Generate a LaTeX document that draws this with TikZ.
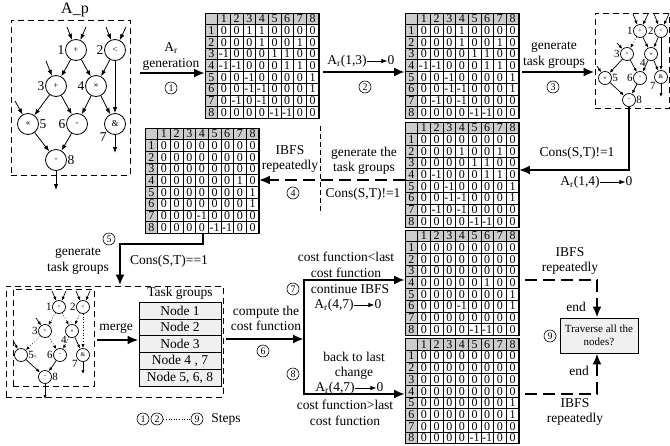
\documentclass[tikz,border=0pt]{standalone}
\usepackage{fontspec}
\setmainfont{Liberation Serif}
\usetikzlibrary{arrows.meta}
\newcommand\fsA{\fontsize{13.5}{15.5}\selectfont}
\tikzset{
  txt/.style={font=\fsA, align=center, inner sep=0pt},
  tl/.style={font=\fsA, inner sep=0pt, text height=9.5pt, text depth=3pt},
  bigarr/.style={line width=2.4pt, -{Latex[length=11pt,width=9pt]}},
  bigdash/.style={line width=2.4pt, dash pattern=on 12pt off 6pt, -{Latex[length=11pt,width=9pt]}},
  smarr/.style={line width=0.8pt, -{Latex[length=6pt,width=4.5pt]}},
  cnum/.style={circle, draw, line width=0.6pt, inner sep=0pt, minimum size=12pt, font=\fontsize{10}{10}\selectfont},
  dbox/.style={draw, line width=1pt, dash pattern=on 6pt off 4pt, inner sep=0pt},
  mcell/.style={draw, line width=0.7pt, minimum width=12.65pt, minimum height=11.7pt, inner sep=0pt, outer sep=0pt, text height=7.8pt, text depth=0pt, font=\fontsize{12}{12}\selectfont},
  mhead/.style={mcell, fill=gray!40},
  mframe/.style={draw, line width=0.9pt, inner sep=0pt, outer sep=0pt, minimum width=113.85pt, minimum height=105.3pt, anchor=north west},
  opA/.style={circle, draw, line width=0.8pt, minimum size=21pt, inner sep=0pt, font=\fontsize{9}{9}\selectfont},
  opB/.style={circle, draw, line width=0.7pt, minimum size=13pt, inner sep=0pt, font=\fontsize{6}{6}\selectfont},
  labA/.style={font=\fsA, inner sep=0.5pt},
  labB/.style={font=\fontsize{11}{11}\selectfont, inner sep=0.3pt},
  eA/.style={line width=0.8pt, -{Latex[length=6pt,width=4.5pt]}},
  eB/.style={line width=0.7pt, -{Latex[length=4pt,width=3.2pt]}},
  dB/.style={eB, dotted},
  tg/.style={draw, fill=gray!12, line width=0.8pt, minimum width=82pt, minimum height=16.8pt, font=\fsA, inner sep=0pt},
}
% #1 name, #2 x, #3 y (top-left), #4 rows
\newcommand\drawmat[4]{%
  \node[mhead] (#1-0-0) at ({#2+0.5*12.65},{#3+0.5*11.7}) {};
  \foreach \k in {1,...,8} {
    \node[mhead] (#1-0-\k) at ({#2+(\k+0.5)*12.65},{#3+0.5*11.7}) {\k};
  }
  \foreach \row [count=\r] in {#4} {
    \node[mhead] (#1-\r-0) at ({#2+0.5*12.65},{#3+(\r+0.5)*11.7}) {\r};
    \foreach \v [count=\c] in \row {
      \node[mcell] (#1-\r-\c) at ({#2+(\c+0.5)*12.65},{#3+(\r+0.5)*11.7}) {\v};
    }
  }
  \node[mframe] (#1) at (#2,#3) {};
}
\begin{document}
\begin{tikzpicture}[x=1pt,y=-1pt]
\useasboundingbox (0,0) rectangle (670,445);

% ================= top-left graph
\node[txt, font=\fontsize{16}{16}\selectfont] (ap) at (75,10) {A\_p};
\node[dbox, minimum width=119pt, minimum height=155pt] (tlbox) at (70.5,97.5) {};
\node[opA, label={[labA]left:1}] (a1) at (76,50) {+};
\node[opA, label={[labA]left:2}] (a2) at (115,50) {<};
\node[opA, label={[labA]left:3}] (a3) at (56,86) {+};
\node[opA, label={[labA]left:4}] (a4) at (96,86) {>>};
\node[opA, label={[labA]right:5}] (a5) at (28,124) {<<};
\node[opA, label={[labA]left:6}] (a6) at (77,124) {-};
\node[opA, label={[labA]below left:7}] (a7) at (115,124) {\&};
\node[opA, label={[labA]right:8}] (a8) at (56,160) {-};
\coordinate (ia1) at (67,27); \coordinate (ib1) at (86,27);
\coordinate (ia2) at (106,27); \coordinate (ib2) at (126,27);
\coordinate (ia3) at (46,61); \coordinate (ia5) at (15,101);
\coordinate (oa7) at (115,153); \coordinate (oa8) at (56,190);
\draw[eA] (ia1) -- (a1); \draw[eA] (ib1) -- (a1);
\draw[eA] (ia2) -- (a2); \draw[eA] (ib2) -- (a2);
\draw[eA] (ia3) -- (a3); \draw[eA] (ia5) -- (a5);
\draw[eA] (a1) -- (a3); \draw[eA] (a1) -- (a4);
\draw[eA] (a2) -- (a4); \draw[eA] (a2) -- (a7);
\draw[eA] (a3) -- (a5); \draw[eA] (a3) -- (a6);
\draw[eA] (a4) -- (a6); \draw[eA] (a4) -- (a7);
\draw[eA] (a5) -- (a8); \draw[eA] (a6) -- (a8);
\draw[eA] (a7) -- (oa7); \draw[eA] (a8) -- (oa8);

% ================= matrices
\drawmat{m1}{205}{13}{{0,0,1,1,0,0,0,0},{0,0,0,1,0,0,1,0},{-1,0,0,0,1,1,0,0},{-1,-1,0,0,0,1,1,0},{0,0,-1,0,0,0,0,1},{0,0,-1,-1,0,0,0,1},{0,-1,0,-1,0,0,0,0},{0,0,0,0,-1,-1,0,0}}
\drawmat{m2}{405}{13}{{0,0,0,1,0,0,0,0},{0,0,0,1,0,0,1,0},{0,0,0,0,1,1,0,0},{-1,-1,0,0,0,1,1,0},{0,0,-1,0,0,0,0,1},{0,0,-1,-1,0,0,0,1},{0,-1,0,-1,0,0,0,0},{0,0,0,0,-1,-1,0,0}}
\drawmat{m3}{405}{122}{{0,0,0,0,0,0,0,0},{0,0,0,1,0,0,1,0},{0,0,0,0,1,1,0,0},{0,-1,0,0,0,1,1,0},{0,0,-1,0,0,0,0,1},{0,0,-1,-1,0,0,0,1},{0,-1,0,-1,0,0,0,0},{0,0,0,0,-1,-1,0,0}}
\drawmat{m4}{145}{128}{{0,0,0,0,0,0,0,0},{0,0,0,0,0,0,0,0},{0,0,0,0,0,0,0,0},{0,0,0,0,0,0,1,0},{0,0,0,0,0,0,0,1},{0,0,0,0,0,0,0,1},{0,0,0,-1,0,0,0,0},{0,0,0,0,-1,-1,0,0}}
\drawmat{m5}{405}{230}{{0,0,0,0,0,0,0,0},{0,0,0,0,0,0,0,0},{0,0,0,0,0,0,0,0},{0,0,0,0,0,1,0,0},{0,0,0,0,0,0,0,1},{0,0,0,-1,0,0,0,1},{0,0,0,0,0,0,0,0},{0,0,0,0,-1,-1,0,0}}
\drawmat{m6}{405}{338.5}{{0,0,0,0,0,0,0,0},{0,0,0,0,0,0,0,0},{0,0,0,0,0,0,0,0},{0,0,0,0,0,0,0,0},{0,0,0,0,0,0,0,1},{0,0,0,0,0,0,0,1},{0,0,0,0,0,0,0,0},{0,0,0,0,-1,-1,0,0}}

% ================= step 1
\node[txt] (t1) at (171,56.5) {A\textsubscript{r}\\generation};
\coordinate (s1) at (140,73);
\draw[bigarr] (s1) -- (s1 -| m1.west);
\node[cnum] (c1n) at (171,88) {1};

% ================= step 2
\node[tl] (x2a) at (347,61) {A\textsubscript{r}(1,3)};
\node[tl] (x2b) at (391,61) {0};
\draw[smarr] (x2a) -- (x2b);
\coordinate (s2) at (323,72);
\draw[bigarr] (s2) -- (s2 -| m2.west);
\node[cnum] (c2n) at (365,87) {2};

% ================= top-right graph
\node[dbox, minimum width=74.5pt, minimum height=95pt] (trbox) at (632.25,60.5) {};
\node[txt] (t3) at (554,55) {generate\\task groups};
\coordinate (s3) at (522,72);
\draw[bigarr] (s3) -- (s3 -| trbox.west);
\node[cnum] (c3n) at (553,87) {3};
\node[opB, label={[labB]left:1}] (b1) at (640,31) {+};
\node[opB, label={[labB]left:2}] (b2) at (661,31) {<};
\node[opB, label={[labB]left:3}] (b3) at (627,54) {+};
\node[opB, label={[labB]below left:4}] (b4) at (651,54) {>>};
\node[opB, label={[labB]right:5}] (b5) at (605,78) {<<};
\node[opB, label={[labB]left:6}] (b6) at (640,78) {-};
\node[opB, label={[labB]below left:7}] (b7) at (661,77) {\&};
\node[opB, label={[labB]right:8}] (b8) at (629,100) {-};
\coordinate (ib1a) at (633,14); \coordinate (ib1b) at (648,14);
\coordinate (ib2a) at (654,14); \coordinate (ib2b) at (669,14);
\coordinate (ib3) at (617,43); \coordinate (ib5) at (597,66);
\coordinate (ob7) at (661,97);
\draw[eB] (ib1a) -- (b1); \draw[eB] (ib1b) -- (b1);
\draw[eB] (ib2a) -- (b2); \draw[eB] (ib2b) -- (b2);
\draw[eB] (ib3) -- (b3); \draw[eB] (ib5) -- (b5);
\draw[dB] (b1) -- (b3); \draw[eB] (b1) -- (b4);
\draw[eB] (b2) -- (b4); \draw[eB] (b2) -- (b7);
\draw[eB] (b3) -- (b5); \draw[eB] (b3) -- (b6);
\draw[eB] (b4) -- (b6); \draw[eB] (b4) -- (b7);
\draw[eB] (b5) -- (b8); \draw[eB] (b6) -- (b8);
\draw[eB] (b7) -- (ob7);

% b8 -> m3
\coordinate (k1) at (629,170);
\draw[bigarr] (b8) -- (k1) -- (k1 -| m3.east);
\node[txt] (t4a) at (577,153) {Cons(S,T)!=1};
\node[tl] (x4a) at (580,182) {A\textsubscript{r}(1,4)};
\node[tl] (x4b) at (629,182) {0};
\draw[smarr] (x4a) -- (x4b);

% ================= step 4 (m3 -> m4)
\coordinate (k2) at (405,180);
\draw[bigdash] (k2 -| m3.west) -- (k2 -| m4.east);
\coordinate (v1) at (320,126); \coordinate (v2) at (320,214);
\draw[line width=0.8pt, dash pattern=on 5pt off 3pt] (v1) -- (v2);
\node[txt] (t4b) at (290,159) {IBFS\\repeatedly};
\node[cnum] (c4n) at (293,193) {4};
\node[txt] (t4c) at (364,161) {generate the\\task groups};
\node[txt] (t4d) at (363,194) {Cons(S,T)!=1};

% ================= step 5 (m4 -> bottom-left)
\node[dbox, minimum width=217pt, minimum height=111pt] (obox) at (114.5,341.5) {};
\node[dbox, minimum width=81pt, minimum height=97pt] (ibox) at (53.5,337.5) {};
\coordinate (k3) at (203,244); \coordinate (k4) at (120,244);
\draw[bigarr] (k3 |- m4.south) -- (k3) -- (k4) -- (k4 |- obox.north);
\node[cnum] (c5n) at (109,239) {5};
\node[txt] (t5a) at (78,261) {generate\\task groups};
\node[txt] (t5b) at (169,261) {Cons(S,T)==1};

% bottom-left graph
\node[opB, label={[labB]left:1}] (d1) at (59,307) {+};
\node[opB, label={[labB]left:2}] (d2) at (83,307) {<};
\node[opB, label={[labB]left:3}] (d3) at (45,331) {+};
\node[opB, label={[labB]below left:4}] (d4) at (72,331) {>>};
\node[opB, label={[labB]right:5{\fontsize{6}{6}\selectfont<}}] (d5) at (21,355) {};
\node[opB, label={[labB]left:6}] (d6) at (60,355) {-};
\node[opB, label={[labB]below left:7}] (d7) at (83,355) {\&};
\node[opB, label={[labB]right:8}] (d8) at (45,377) {-};
\coordinate (id1a) at (52,291); \coordinate (id1b) at (66,291);
\coordinate (id2a) at (76,291); \coordinate (id2b) at (90,291);
\coordinate (id3) at (36,318); \coordinate (id5) at (14,342);
\coordinate (od7) at (83,374); \coordinate (od8) at (45,399);
\draw[eB] (id1a) -- (d1); \draw[eB] (id1b) -- (d1);
\draw[eB] (id2a) -- (d2); \draw[eB] (id2b) -- (d2);
\draw[eB] (id3) -- (d3); \draw[eB] (id5) -- (d5);
\draw[dB] (d1) -- (d3); \draw[dB] (d1) -- (d4);
\draw[dB] (d2) -- (d4); \draw[dB] (d2) -- (d7);
\draw[dB] (d3) -- (d5); \draw[dB] (d3) -- (d6);
\draw[dB] (d4) -- (d6); \draw[eB] (d4) -- (d7);
\draw[eB] (d5) -- (d8); \draw[eB] (d6) -- (d8);
\draw[eB] (d7) -- (od7); \draw[eB] (d8) -- (od8);

% task groups table
\node[txt] (tgh) at (180,293) {Task groups};
\node[tg] (g1) at (180,310.5) {Node 1};
\node[tg] (g2) at (180,327.3) {Node 2};
\node[tg] (g3) at (180,344.1) {Node 3};
\node[tg] (g4) at (180,360.9) {Node 4 , 7};
\node[tg] (g5) at (180,377.7) {Node 5, 6, 8};
\node[txt] (tmg) at (116,328) {merge};
\coordinate (k5) at (97,340);
\draw[bigarr] (k5) -- (k5 -| g1.west);

% ================= step 6, 7, 8
\coordinate (k6) at (226,339); \coordinate (br) at (304,339);
\draw[bigarr] (k6) -- (br);
\node[txt] (t6) at (266,318.5) {compute the\\cost function};
\node[cnum] (c6n) at (263,351) {6};
\coordinate (bt) at (304,280); \coordinate (bb) at (304,394);
\draw[bigarr] (bb) -- (bt) -- (bt -| m5.west);
\draw[bigarr] (bt) -- (bb) -- (bb -| m6.west);
\node[cnum] (c7n) at (293,289) {7};
\node[cnum] (c8n) at (293,374) {8};
\node[txt] (t7a) at (346,265) {cost function<last\\cost function};
\node[txt] (t7b) at (350,289.5) {continue IBFS};
\node[tl] (x7a) at (334,305) {A\textsubscript{r}(4,7)};
\node[tl] (x7b) at (378,305) {0};
\draw[smarr] (x7a) -- (x7b);
\node[txt] (t8a) at (354,366) {back to last\\change};
\node[tl] (x8a) at (335,388) {A\textsubscript{r}(4,7)};
\node[tl] (x8b) at (380,388) {0};
\draw[smarr] (x8a) -- (x8b);
\node[txt] (t8b) at (345,413) {cost function>last\\cost function};

% ================= step 9
\node[draw, fill=gray!12, line width=0.8pt, minimum width=78pt, minimum height=35pt, align=center, inner sep=0pt, font=\fontsize{11}{12.5}\selectfont] (tb) at (599,335.5) {Traverse all the\\nodes?};
\coordinate (r1) at (597,280); \coordinate (r1s) at (525,280);
\coordinate (r2) at (597,394); \coordinate (r2s) at (525,394);
\draw[bigdash] (r1s) -- (r1) -- (tb.north -| r1);
\draw[bigdash] (r2s) -- (r2) -- (tb.south -| r2);
\node[txt] (t9a) at (570,261) {IBFS\\repeatedly};
\node[txt] (t9b) at (576,307) {end};
\node[txt] (t9c) at (579,371) {end};
\node[txt] (t9d) at (575,412) {IBFS\\repeatedly};
\node[cnum] (c9n) at (550,336) {9};

% ================= legend
\node[cnum] (l1) at (143,419) {1};
\node[cnum] (l2) at (157,419) {2};
\node[cnum] (l9) at (197,419) {9};
\draw[line width=0.6pt, dotted] (l2) -- (l9);
\node[txt] (lst) at (226,419) {Steps};
\end{tikzpicture}
\end{document}
